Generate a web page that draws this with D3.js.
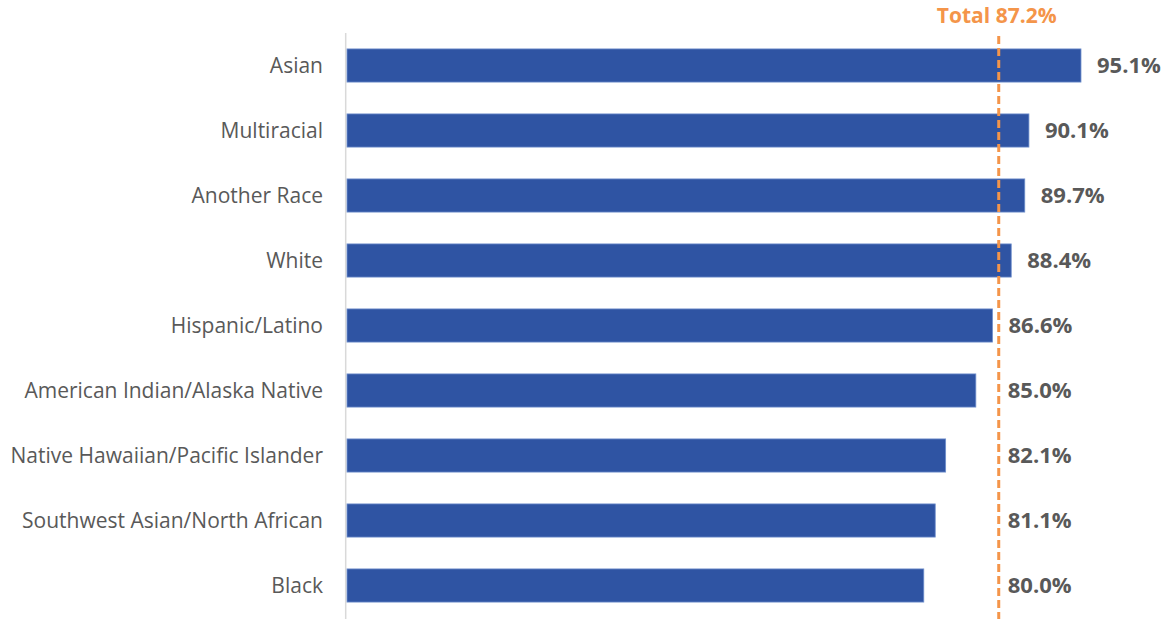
<!DOCTYPE html>
<html>
<head>
<meta charset="utf-8">
<script src="https://cdn.jsdelivr.net/npm/d3@7"></script>
<style>
  html, body { margin: 0; padding: 0; background: #ffffff; }
  svg { display: block; }
</style>
</head>
<body>
<svg id="chart" width="1172" height="619"></svg>
<script>
// Share of students, by race/ethnicity (percent)
const categories = [
  "Asian",
  "Multiracial",
  "Another Race",
  "White",
  "Hispanic/Latino",
  "American Indian/Alaska Native",
  "Native Hawaiian/Pacific Islander",
  "Southwest Asian/North African",
  "Black"
];
const values = [95.1, 90.1, 89.7, 88.4, 86.6, 85.0, 82.1, 81.1, 80.0];
const totalValue = 87.2;
const totalLabel = "Total 87.2%";

(function draw() {
  const svg = d3.select("#chart");
  const plotLeft = 347, plotRight = 1132;
  const plotTop = 33, plotBottom = 619;

  const x = d3.scaleLinear().domain([24.6, 100]).range([plotLeft, plotRight]);
  const y = d3.scaleBand().domain(categories)
    .range([plotTop, plotTop + 65 * categories.length])
    .paddingInner(0.49).paddingOuter(0.245);

  const fontFamily = "'Open Sans', 'Noto Sans', sans-serif";

  // Category axis line
  svg.append("line")
    .attr("x1", plotLeft - 1.3).attr("x2", plotLeft - 1.3)
    .attr("y1", plotTop).attr("y2", plotBottom)
    .attr("stroke", "#d9d9d9").attr("stroke-width", 1.5);

  svg.append("g").selectAll("text")
    .data(categories)
    .join("text")
    .attr("x", 323)
    .attr("y", d => y(d) + y.bandwidth() / 2)
    .attr("dy", "0.35em")
    .attr("text-anchor", "end")
    .attr("font-family", fontFamily)
    .attr("font-size", 21)
    .attr("fill", "#595959")
    .text(d => d);

  // Bars
  const x0 = x(x.domain()[0]);
  svg.append("g").selectAll("rect")
    .data(categories)
    .join("rect")
    .attr("x", x0)
    .attr("y", d => y(d))
    .attr("width", (d, i) => x(values[i]) - x0)
    .attr("height", y.bandwidth())
    .attr("fill", "#2f54a3")
    .attr("stroke", "#6f8fcc")
    .attr("stroke-width", 0.8);

  // Total reference line
  const xt = x(totalValue);
  svg.append("line")
    .attr("x1", xt).attr("x2", xt)
    .attr("y1", 36).attr("y2", plotBottom)
    .attr("stroke", "#f4954a")
    .attr("stroke-width", 3)
    .attr("stroke-dasharray", "8,4");

  svg.append("text")
    .attr("x", xt - 2)
    .attr("y", 23)
    .attr("text-anchor", "middle")
    .attr("font-family", fontFamily)
    .attr("font-weight", 700)
    .attr("font-size", 21)
    .attr("fill", "#f4954a")
    .text(totalLabel);

  // Value labels, kept clear of the total line
  svg.append("g").selectAll("text")
    .data(categories)
    .join("text")
    .attr("x", (d, i) => Math.max(x(values[i]) + 16, xt + 9))
    .attr("y", d => y(d) + y.bandwidth() / 2)
    .attr("dy", "0.35em")
    .attr("font-family", fontFamily)
    .attr("font-weight", 700)
    .attr("font-size", 22)
    .attr("fill", "#595959")
    .text((d, i) => values[i].toFixed(1) + "%");
})();
</script>
</body>
</html>
